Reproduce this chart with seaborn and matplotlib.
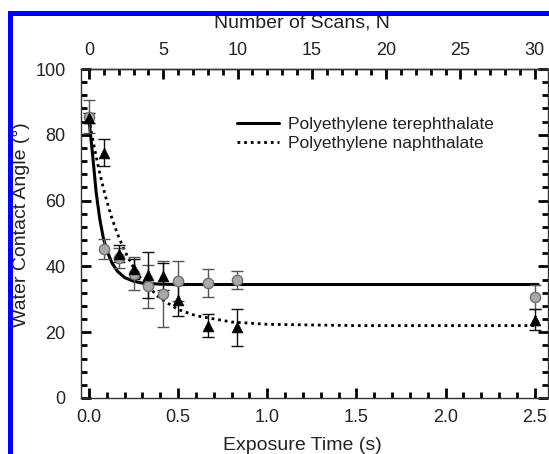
import matplotlib
matplotlib.use('Agg')
import matplotlib.pyplot as plt
import matplotlib.patches as patches
import numpy as np
import pandas as pd
import seaborn as sns

# measured points (exposure time in s, contact angle in deg)
exposure_time = [0.0, 0.083, 0.167, 0.25, 0.333, 0.417, 0.5, 0.667, 0.833, 2.5]
pet_angle = [85.5, 45.4, 42.6, 37.8, 33.9, 31.5, 35.5, 35.0, 35.8, 30.7]
pet_err = [5.0, 3.0, 3.0, 5.0, 6.5, 10.0, 6.0, 4.3, 2.8, 3.5]
pen_angle = [85.0, 74.6, 43.8, 39.3, 37.3, 37.0, 29.7, 22.0, 21.5, 23.8]
pen_err = [1.5, 4.0, 2.6, 3.0, 7.0, 4.1, 4.7, 3.4, 5.7, 3.2]

# fitted curves
fit_time = [0.0, 0.02, 0.04, 0.06, 0.08, 0.10, 0.13, 0.16, 0.20, 0.25, 0.30,
            0.40, 0.50, 0.60, 0.80, 1.00, 1.50, 2.52]
pet_fit = [84.5, 74.0, 62.5, 54.5, 48.7, 44.8, 40.9, 38.5, 36.6, 35.5, 34.9,
           34.6, 34.5, 34.5, 34.5, 34.5, 34.5, 34.5]
pen_fit = [85.0, 78.9, 73.4, 68.4, 63.9, 59.8, 54.4, 49.8, 44.7, 39.6, 35.6,
           30.2, 26.9, 25.0, 23.1, 22.4, 22.0, 22.0]

y_ticks = [0, 20, 40, 60, 80, 100]
x_ticks = [0.0, 0.5, 1.0, 1.5, 2.0, 2.5]
scan_ticks = [0, 5, 10, 15, 20, 25, 30]

sns.set_style('ticks')
plt.rcParams['font.family'] = ['Liberation Sans', 'DejaVu Sans']
txt = '#222222'

fig = plt.figure(figsize=(5.49, 4.54), dpi=100)
ax = fig.add_axes([81 / 549, 56 / 454, 467 / 549, 329 / 454])

pts = pd.DataFrame({'t': exposure_time, 'pet': pet_angle, 'pen': pen_angle})
fits = pd.DataFrame({'t': fit_time, 'pet': pet_fit, 'pen': pen_fit})

# fit lines
sns.lineplot(data=fits, x='t', y='pet', ax=ax, color='black', lw=2.2,
             label='Polyethylene terephthalate', estimator=None, sort=False)
sns.lineplot(data=fits, x='t', y='pen', ax=ax, color='black', lw=2.0,
             linestyle=(0, (1, 1.4)), label='Polyethylene naphthalate',
             estimator=None, sort=False)

# error bars
ax.errorbar(exposure_time, pet_angle, yerr=pet_err, fmt='none', ecolor='#555555',
            elinewidth=1.0, capsize=4, capthick=1.0, zorder=3)
ax.errorbar(exposure_time, pen_angle, yerr=pen_err, fmt='none', ecolor='#111111',
            elinewidth=1.0, capsize=4, capthick=1.0, zorder=3)

# markers
sns.scatterplot(data=pts, x='t', y='pet', ax=ax, marker='o', s=55,
                color='#a9a9a9', edgecolor='#707070', linewidth=1.0, zorder=4,
                legend=False)
sns.scatterplot(data=pts, x='t', y='pen', ax=ax, marker='^', s=60,
                color='black', edgecolor='black', linewidth=0.5, zorder=5,
                legend=False)

ax.set_xlim(-0.045, 2.575)
ax.set_ylim(0, 100)
ax.set_xticks(x_ticks)
ax.set_xticklabels([f'{v:.1f}' for v in x_ticks])
ax.set_xticks(np.arange(0, 2.6, 0.1), minor=True)
ax.set_yticks(y_ticks)
ax.set_yticks(np.arange(0, 101, 4), minor=True)

ax.set_xlabel('Exposure Time (s)', fontsize=14, color=txt)
ax.set_ylabel('Water Contact Angle (°)', fontsize=14, color=txt)
ax.xaxis.set_label_coords(0.473, -0.118)
ax.yaxis.set_label_coords(-0.109, 0.526)

ax.tick_params(which='both', direction='in', top=False, right=True,
               labelsize=13, labelcolor=txt, color='black')
ax.tick_params(which='major', length=7, width=2.0)
ax.tick_params(which='minor', length=4, width=2.0)
ax.tick_params(axis='x', pad=8)
ax.tick_params(axis='y', pad=11)

# top axis: number of scans
top = ax.secondary_xaxis('top', functions=(lambda t: t * 12, lambda n: n / 12))
top.set_xticks(scan_ticks)
top.set_xticks(np.arange(0, 31, 1), minor=True)
top.tick_params(which='both', direction='in', labelsize=13, labelcolor=txt,
                color='black', pad=7.5)
top.tick_params(which='major', length=7, width=2.0)
top.tick_params(which='minor', length=4, width=2.0)
top.spines['top'].set_linewidth(1.0)
top.spines['top'].set_color('#333333')
fig.text(302 / 549, 1 - 23 / 454, 'Number of Scans, N', fontsize=14, color=txt,
         ha='center', va='center')

for s in ax.spines.values():
    s.set_linewidth(1.0)
    s.set_color('#333333')

leg = ax.legend(loc='upper left', bbox_to_anchor=(0.334, 0.855), frameon=False,
                fontsize=12.5, handlelength=2.4, handletextpad=0.55,
                labelspacing=0.25, borderpad=0, borderaxespad=0)
for t in leg.get_texts():
    t.set_color(txt)

# blue frame round the figure
fig.patches.append(patches.Rectangle((9.5 / 549, -0.1), 1.2, 1.1 - 13.5 / 454,
                                     transform=fig.transFigure, fill=False,
                                     edgecolor='#0000ff', lw=3.6, clip_on=False))

fig.savefig('out.png', dpi=100)
